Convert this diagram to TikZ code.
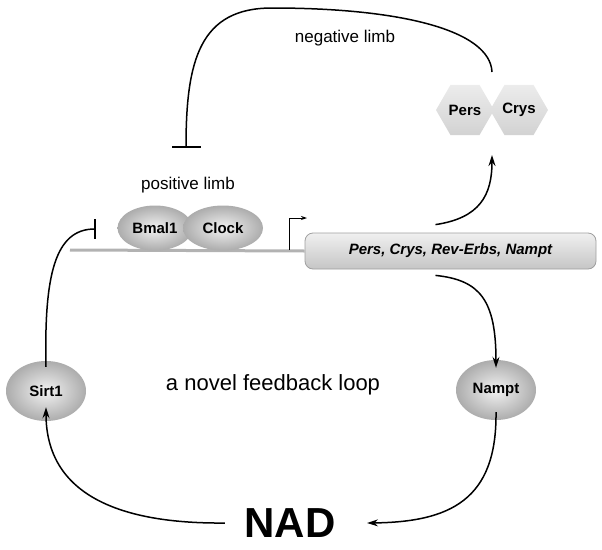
\documentclass[tikz,border=0pt]{standalone}
\usepackage{fontspec}
\setmainfont{Liberation Sans}
\usetikzlibrary{arrows.meta, shapes.geometric, positioning, calc}

\tikzset{
  protein/.style={ellipse, inner sep=0pt, inner color=gray!10, outer color=gray!65,
                  font=\fontsize{15}{18}\selectfont\bfseries},
  hexprot/.style={regular polygon, regular polygon sides=6, minimum size=58pt, inner sep=0pt,
                  top color=gray!15, bottom color=gray!35,
                  font=\fontsize{15}{18}\selectfont\bfseries},
  genebox/.style={draw=gray!75, line width=0.8pt, rounded corners=8pt,
                  top color=gray!12, bottom color=gray!45,
                  minimum width=291pt, minimum height=36pt,
                  font=\fontsize{15}{18}\selectfont\bfseries\itshape},
  dna/.style={draw=gray!60, line width=3pt},
  act/.style={-{Stealth[length=11pt,width=7pt]}, line width=1.5pt},
  inh/.style={line width=1.5pt},
  lbl/.style={font=\fontsize{17}{20}\selectfont},
}

\begin{document}
\begin{tikzpicture}[x=1pt,y=-1pt]
  \useasboundingbox (0,0) rectangle (602,549);

  % promoter and genes
  \coordinate (dnaL) at (70,250);
  \node[genebox] (gene) at (450.5,251) {Pers, Crys, Rev-Erbs, Nampt};
  \draw[dna] (dnaL) -- (gene.west);
  \coordinate (tss) at (289,250);
  \draw[line width=0.9pt, -{Stealth[length=6pt,width=4pt]}] (tss) -- ++(0,-32) -- ++(18,0);

  % positive limb
  \node[protein, minimum width=75pt, minimum height=45pt] (bmal) at (155,228) {Bmal1};
  \node[protein, minimum width=80pt, minimum height=45pt] (clock) at (223,228) {Clock};
  \node[lbl] (poslbl) at (188,185) {positive limb};

  % negative limb
  \node[hexprot] (pers) at (465,110) {Pers};
  \node[hexprot] (crys) at (519,110) {Crys};
  \node[lbl] (neglbl) at (345,38) {negative limb};
  \coordinate (negtop) at (492,72);
  \coordinate (negbar) at (186,148);
  \draw[inh, -{Bar[width=29pt,line width=1.8pt]}]
    (negtop) .. controls (490,30) and (400,8) .. (272,8)
             .. controls (200,8) and (186,60) .. (negbar);
  \coordinate (hexbot) at (492,155);
  \draw[act] ($(gene.north)+(-15,-8)$) .. controls (480,218) and (492,195) .. (hexbot);

  % feedback loop
  \node[protein, minimum width=80pt, minimum height=60pt] (nampt) at (496,390) {Nampt};
  \node[protein, minimum width=80pt, minimum height=60pt] (sirt) at (46,391) {Sirt1};
  \node[font=\fontsize{42}{48}\selectfont\bfseries] (nad) at (290,523) {NAD};
  \node[lbl, font=\fontsize{22}{26}\selectfont] (loop) at (273,385) {a novel feedback loop};

  \draw[act] ($(gene.south)+(-15,6)$) .. controls (480,280) and (496,300) .. ([yshift=-8pt]nampt.north);
  \draw[act] ([yshift=8pt]nampt.south) .. controls (497,500) and (450,522) .. ([xshift=28pt]nad.east);
  \draw[act] ([xshift=-16pt]nad.west) .. controls (120,524) and (46,495) .. ([yshift=14pt]sirt.south);
  \coordinate (sirtbar) at (96,229);
  \draw[inh, -{Bar[width=20pt,line width=1.8pt]}]
    ([yshift=-6pt]sirt.north) .. controls (44,275) and (55,229) .. (sirtbar);
\end{tikzpicture}
\end{document}
